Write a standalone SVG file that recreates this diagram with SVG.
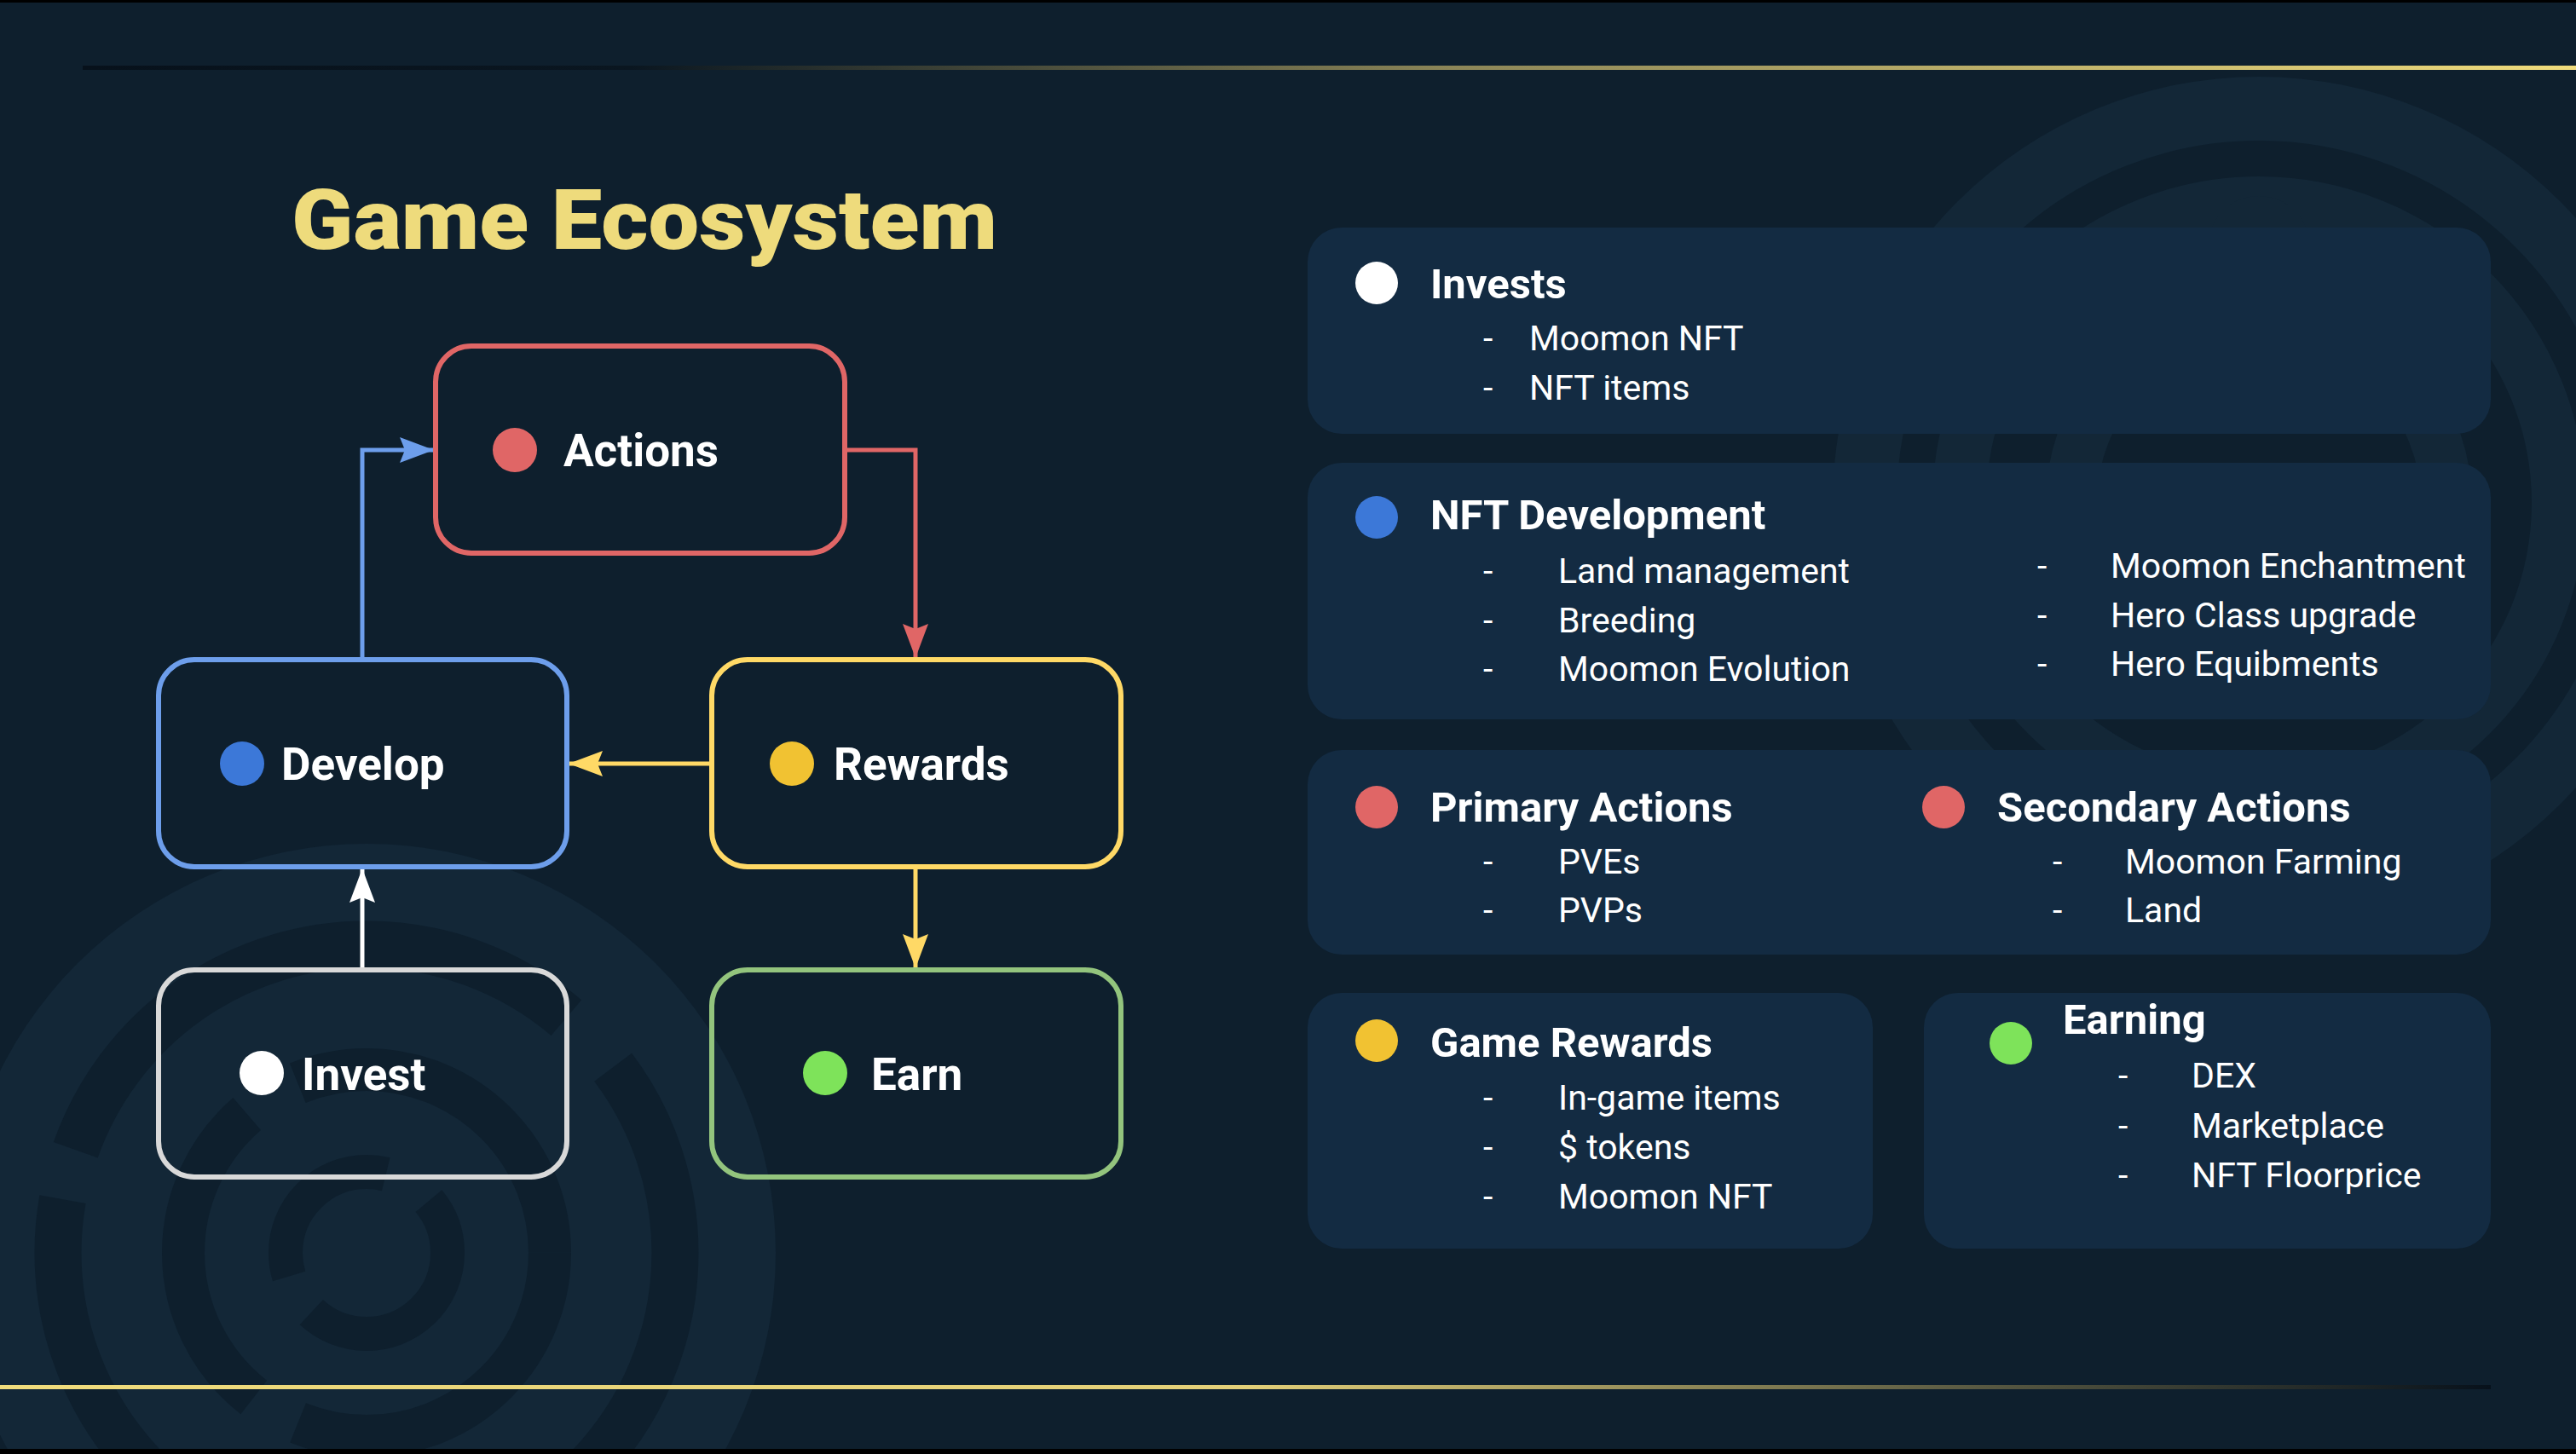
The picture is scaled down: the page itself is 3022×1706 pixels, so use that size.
<svg xmlns="http://www.w3.org/2000/svg" width="3022" height="1706" viewBox="0 0 3022 1706">
  <defs>
    <linearGradient id="topLine" x1="97" y1="0" x2="3022" y2="0" gradientUnits="userSpaceOnUse">
      <stop offset="0" stop-color="#07111b"/>
      <stop offset="0.22" stop-color="#0a1620"/>
      <stop offset="0.55" stop-color="#8c8658"/>
      <stop offset="1" stop-color="#f0dc7c"/>
    </linearGradient>
    <linearGradient id="botLine" x1="0" y1="0" x2="2922" y2="0" gradientUnits="userSpaceOnUse">
      <stop offset="0" stop-color="#f0dc7c"/>
      <stop offset="0.5" stop-color="#e2cf78"/>
      <stop offset="0.78" stop-color="#5e5e45"/>
      <stop offset="1" stop-color="#07111b"/>
    </linearGradient>
    <marker id="arBlue" markerUnits="userSpaceOnUse" markerWidth="42" markerHeight="30" refX="40" refY="15" orient="auto">
      <path d="M0,0 L40,15 L0,30 L6,15 z" fill="#6d9eeb"/>
    </marker>
    <marker id="arRed" markerUnits="userSpaceOnUse" markerWidth="42" markerHeight="30" refX="40" refY="15" orient="auto">
      <path d="M0,0 L40,15 L0,30 L6,15 z" fill="#e06666"/>
    </marker>
    <marker id="arYellow" markerUnits="userSpaceOnUse" markerWidth="42" markerHeight="30" refX="40" refY="15" orient="auto">
      <path d="M0,0 L40,15 L0,30 L6,15 z" fill="#ffd966"/>
    </marker>
    <marker id="arWhite" markerUnits="userSpaceOnUse" markerWidth="42" markerHeight="30" refX="40" refY="15" orient="auto">
      <path d="M0,0 L40,15 L0,30 L6,15 z" fill="#ffffff"/>
    </marker>
  </defs>
  <style>
    .node { fill: none; stroke-width: 6; }
    .nlabel { font-family: Roboto, "Liberation Sans", sans-serif; font-weight: 700; font-size: 53px; fill: #ffffff; }
    .panel { fill: #132b42; }
    .ptitle { font-family: Roboto, "Liberation Sans", sans-serif; font-weight: 700; font-size: 49px; fill: #ffffff; }
    .item { font-family: Roboto, "Liberation Sans", sans-serif; font-weight: 400; font-size: 41px; fill: #ffffff; }
    .conn { fill: none; stroke-width: 5; }
    .wmfill { fill: #132737; }
    .wmcut { fill: none; stroke: #0e1f2d; }
  </style>

  <!-- background -->
  <rect x="0" y="0" width="3022" height="1706" fill="#0e1f2d"/>
  <g id="watermarks">
    <circle class="wmfill" cx="430" cy="1470" r="480"/>
    <circle class="wmcut" cx="430" cy="1470" r="362" stroke-width="55" stroke-dasharray="520 70 610 60 700 80"/>
    <circle class="wmcut" cx="430" cy="1470" r="215" stroke-width="50" stroke-dasharray="420 60 380 70"/>
    <circle class="wmcut" cx="430" cy="1470" r="95" stroke-width="40" stroke-dasharray="220 50 200 60"/>
    <circle class="wmfill" cx="2650" cy="590" r="500"/>
    <circle class="wmcut" cx="2650" cy="590" r="404" stroke-width="42"/>
    <circle cx="2650" cy="590" r="320" fill="#0e1f2d"/>
    <circle class="wmfill" cx="2650" cy="290" r="60"/>
    <circle cx="2650" cy="590" r="220" fill="none" stroke="#132737" stroke-width="60"/>
  </g>
  <rect x="0" y="0" width="3022" height="3" fill="#000000"/>
  <rect x="0" y="1700" width="3022" height="6" fill="#000000"/>

  <!-- decorative lines -->
  <rect x="97" y="77" width="2925" height="5" fill="url(#topLine)"/>
  <rect x="0" y="1625" width="2922" height="5" fill="url(#botLine)"/>

  <!-- title -->
  <text x="342" y="292" font-family="Roboto, 'Liberation Sans', sans-serif" font-weight="900" font-size="99" fill="#eedb7c" textLength="828" lengthAdjust="spacingAndGlyphs">Game Ecosystem</text>

  <!-- connectors -->
  <g id="connectors">
    <path class="conn" stroke="#6d9eeb" d="M425,774 L425,528 L509,528" marker-end="url(#arBlue)"/>
    <path class="conn" stroke="#e06666" d="M991,528 L1074,528 L1074,772" marker-end="url(#arRed)"/>
    <path class="conn" stroke="#ffd966" d="M835,896 L667,896" marker-end="url(#arYellow)"/>
    <path class="conn" stroke="#ffd966" d="M1074,1017 L1074,1136" marker-end="url(#arYellow)"/>
    <path class="conn" stroke="#ffffff" d="M425,1138 L425,1019" marker-end="url(#arWhite)"/>
  </g>

  <!-- nodes -->
  <g id="node-actions">
    <rect class="node" x="511" y="406" width="480" height="243" rx="42" stroke="#e06666"/>
    <circle cx="604" cy="528" r="26" fill="#e06666"/>
    <text class="nlabel" x="661" y="547">Actions</text>
  </g>
  <g id="node-develop">
    <rect class="node" x="186" y="774" width="479" height="243" rx="42" stroke="#6d9eeb"/>
    <circle cx="284" cy="896" r="26" fill="#3c78d8"/>
    <text class="nlabel" x="330" y="915">Develop</text>
  </g>
  <g id="node-rewards">
    <rect class="node" x="835" y="774" width="480" height="243" rx="42" stroke="#ffd966"/>
    <circle cx="929" cy="896" r="26" fill="#f1c232"/>
    <text class="nlabel" x="978" y="915">Rewards</text>
  </g>
  <g id="node-invest">
    <rect class="node" x="186" y="1138" width="479" height="243" rx="42" stroke="#d9d9d9"/>
    <circle cx="307" cy="1259" r="26" fill="#ffffff"/>
    <text class="nlabel" x="354" y="1279">Invest</text>
  </g>
  <g id="node-earn">
    <rect class="node" x="835" y="1138" width="480" height="243" rx="42" stroke="#93c47d"/>
    <circle cx="968" cy="1259" r="26" fill="#7ee35a"/>
    <text class="nlabel" x="1022" y="1279">Earn</text>
  </g>

  <!-- right panels -->
  <g id="panel-invests">
    <rect class="panel" x="1534" y="267" width="1388" height="242" rx="40"/>
    <circle cx="1615" cy="332" r="25" fill="#ffffff"/>
    <text class="ptitle" x="1678" y="350">Invests</text>
    <text class="item" x="1740" y="411">-</text>
    <text class="item" x="1794" y="411">Moomon NFT</text>
    <text class="item" x="1740" y="469">-</text>
    <text class="item" x="1794" y="469">NFT items</text>
  </g>
  <g id="panel-nft-development">
    <rect class="panel" x="1534" y="543" width="1388" height="301" rx="40"/>
    <circle cx="1615" cy="607" r="25" fill="#3c78d8"/>
    <text class="ptitle" x="1678" y="621">NFT Development</text>
    <text class="item" x="1740" y="684">-</text>
    <text class="item" x="1828" y="684">Land management</text>
    <text class="item" x="1740" y="742">-</text>
    <text class="item" x="1828" y="742">Breeding</text>
    <text class="item" x="1740" y="799">-</text>
    <text class="item" x="1828" y="799">Moomon Evolution</text>
    <text class="item" x="2390" y="678">-</text>
    <text class="item" x="2476" y="678">Moomon Enchantment</text>
    <text class="item" x="2390" y="736">-</text>
    <text class="item" x="2476" y="736">Hero Class upgrade</text>
    <text class="item" x="2390" y="793">-</text>
    <text class="item" x="2476" y="793">Hero Equibments</text>
  </g>
  <g id="panel-actions">
    <rect class="panel" x="1534" y="880" width="1388" height="240" rx="40"/>
    <circle cx="1615" cy="947" r="25" fill="#e06666"/>
    <text class="ptitle" x="1678" y="964">Primary Actions</text>
    <text class="item" x="1740" y="1025">-</text>
    <text class="item" x="1828" y="1025">PVEs</text>
    <text class="item" x="1740" y="1082">-</text>
    <text class="item" x="1828" y="1082">PVPs</text>
    <circle cx="2280" cy="947" r="25" fill="#e06666"/>
    <text class="ptitle" x="2343" y="964">Secondary Actions</text>
    <text class="item" x="2408" y="1025">-</text>
    <text class="item" x="2493" y="1025">Moomon Farming</text>
    <text class="item" x="2408" y="1082">-</text>
    <text class="item" x="2493" y="1082">Land</text>
  </g>
  <g id="panel-game-rewards">
    <rect class="panel" x="1534" y="1165" width="663" height="300" rx="40"/>
    <circle cx="1615" cy="1221" r="25" fill="#f1c232"/>
    <text class="ptitle" x="1678" y="1240">Game Rewards</text>
    <text class="item" x="1740" y="1302">-</text>
    <text class="item" x="1828" y="1302">In-game items</text>
    <text class="item" x="1740" y="1360">-</text>
    <text class="item" x="1828" y="1360">$ tokens</text>
    <text class="item" x="1740" y="1418">-</text>
    <text class="item" x="1828" y="1418">Moomon NFT</text>
  </g>
  <g id="panel-earning">
    <rect class="panel" x="2257" y="1165" width="665" height="300" rx="40"/>
    <circle cx="2359" cy="1224" r="25" fill="#7ee35a"/>
    <text class="ptitle" x="2420" y="1213">Earning</text>
    <text class="item" x="2485" y="1276">-</text>
    <text class="item" x="2571" y="1276">DEX</text>
    <text class="item" x="2485" y="1335">-</text>
    <text class="item" x="2571" y="1335">Marketplace</text>
    <text class="item" x="2485" y="1393">-</text>
    <text class="item" x="2571" y="1393">NFT Floorprice</text>
  </g>
</svg>
